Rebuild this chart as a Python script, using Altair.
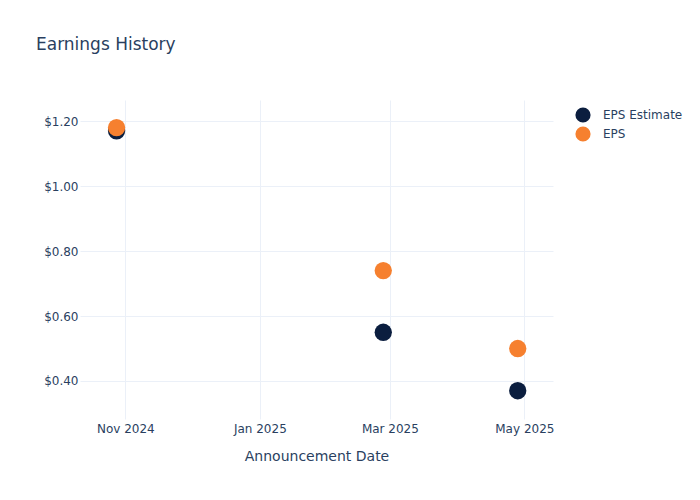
import altair as alt
import pandas as pd

dates = ["2024-10-28", "2025-02-26", "2025-04-28"]
eps_estimate = [1.17, 0.55, 0.37]
eps_actual = [1.18, 0.74, 0.50]
series = ["EPS Estimate", "EPS"]
colors = ["#0b1e3f", "#f6802f"]

rows = []
for d, v in zip(dates, eps_estimate):
    rows.append({"date": d, "value": v, "series": series[0]})
for d, v in zip(dates, eps_actual):
    rows.append({"date": d, "value": v, "series": series[1]})
df = pd.DataFrame(rows)

text_color = "#2a3f5f"
font = "DejaVu Sans"

x_ticks = [alt.DateTime(year=2024, month=11, date=1, utc=True),
           alt.DateTime(year=2025, month=1, date=1, utc=True),
           alt.DateTime(year=2025, month=3, date=1, utc=True),
           alt.DateTime(year=2025, month=5, date=1, utc=True)]
x_domain = [alt.DateTime(year=2024, month=10, date=11, hours=10, utc=True),
            alt.DateTime(year=2025, month=5, date=14, utc=True)]
y_ticks = [0.4, 0.6, 0.8, 1.0, 1.2]

chart = alt.Chart(df).mark_circle(size=300, opacity=1).encode(
    x=alt.X("date:T",
            scale=alt.Scale(type="utc", domain=x_domain, nice=False),
            axis=alt.Axis(values=x_ticks, format="%b %Y", title="Announcement Date",
                          labelPadding=4, titlePadding=15, titleFontSize=14,
                          titleFontWeight="normal")),
    y=alt.Y("value:Q",
            scale=alt.Scale(domain=[0.283, 1.265], nice=False, zero=False),
            axis=alt.Axis(values=y_ticks, format="$.2f", title=None, labelPadding=2)),
    color=alt.Color("series:N",
                    scale=alt.Scale(domain=series, range=colors),
                    sort=series,
                    legend=alt.Legend(title=None, orient="none", legendX=495, legendY=7,
                                      symbolSize=230, symbolType="circle",
                                      labelFontSize=12, labelColor=text_color,
                                      labelFont=font, labelOffset=12, rowPadding=3,
                                      symbolStrokeWidth=0)),
    order=alt.Order("series:N", sort="descending"),
).properties(
    width=473,
    height=319,
    autosize=alt.AutoSizeParams(type="none"),
    padding={"left": 72, "top": 92, "right": 139, "bottom": 73},
    title=alt.TitleParams("Earnings History", anchor="start", frame="group", dx=-44,
                          offset=33, baseline="alphabetic", fontSize=17,
                          fontWeight="normal", color=text_color, font=font),
).configure_view(
    stroke=None
).configure_axis(
    grid=True, gridColor="#ebf0f8", gridWidth=1, domain=False, ticks=False,
    labelColor=text_color, labelFontSize=12, labelFont=font,
    titleColor=text_color, titleFont=font,
)

chart.save("out.html", embed_options={"renderer": "svg", "actions": False})
